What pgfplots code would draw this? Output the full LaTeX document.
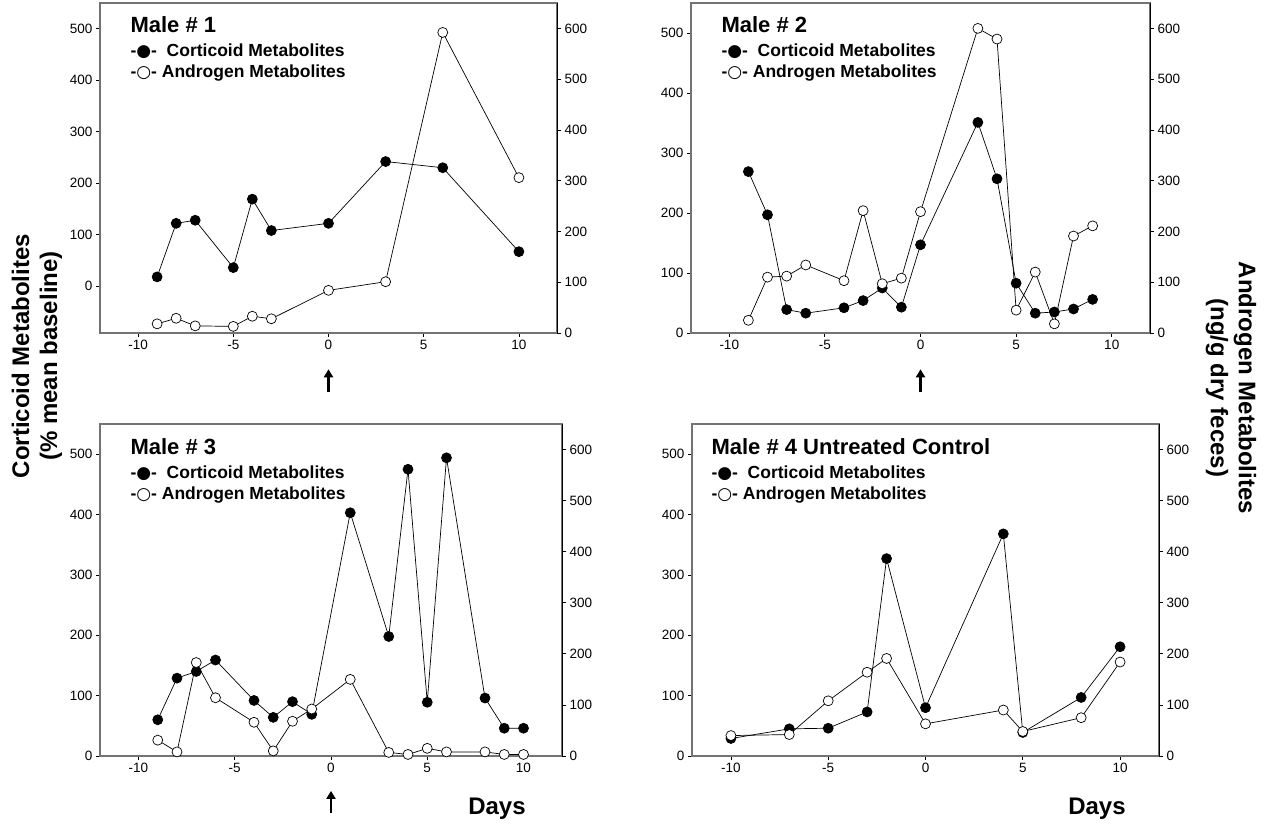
\documentclass[border=0pt]{standalone}
\usepackage{fontspec}
\setmainfont{Liberation Sans}
\newfontfamily\dejavu{DejaVu Sans}
\usepackage{pgfplots}
\pgfplotsset{compat=1.18}
\usetikzlibrary{arrows.meta}

\newcommand{\tickfont}{\fontsize{13.5}{15}\selectfont}

\pgfplotsset{
  panel/.style={
    scale only axis, anchor=south west, clip=false,
    xmin=-12, xmax=12,
    tick align=outside, major tick length=4pt,
    tick style={black, line width=0.8pt},
    xticklabel style={font=\tickfont},
    yticklabel style={font=\tickfont},
    /pgf/number format/assume math mode=true,
  },
  leftax/.style={panel,
    axis line style={black!55, line width=1.4pt},
    xtick={-10,-5,0,5,10}, xtick pos=bottom,
    ytick={0,100,...,500}, ytick pos=left,
    ymax=550,
  },
  rightax/.style={panel,
    axis x line=none, axis y line*=right,
    axis line style={black, line width=1pt},
    ytick={0,100,...,600},
    ymin=0, ymax=650,
  },
  cort/.style={black, line width=0.7pt, mark=*, mark size=5pt,
    mark options={fill=black, draw=black, line width=0.7pt}},
  andr/.style={black, line width=0.7pt, mark=*, mark size=5pt,
    mark options={fill=white, draw=black, line width=0.7pt}},
}

\newcommand{\legtext}[3]{%
  \node[anchor=base west, font=\fontsize{22}{24}\bfseries\selectfont] at (#1,#2) {#3};
  \node[anchor=base west, font=\fontsize{17.5}{19}\bfseries\selectfont] at (#1,#2-24pt)
    {-{\dejavu\fontsize{17}{19}\selectfont ●}-\ \ Corticoid Metabolites};
  \node[anchor=base west, font=\fontsize{17.5}{19}\bfseries\selectfont] at (#1,#2-45pt)
    {-{\dejavu\fontsize{17}{19}\selectfont ○}- Androgen Metabolites};
}

\begin{document}
\begin{tikzpicture}[x=1pt,y=1pt]
\useasboundingbox (0,0) rectangle (1278,827);

% ---------- Male 1 ----------
\begin{axis}[leftax, at={(100pt,494pt)}, width=457pt, height=330pt, ymin=-91]
\addplot[cort] coordinates {(-9,18) (-8,122) (-7,128) (-5,36) (-4,169) (-3,108) (0,122) (3,242) (6,230) (10,67)};
\draw[line width=2.2pt, -{Triangle[length=8pt,width=9pt]}] (rel axis cs:0.5,-0.18) -- (rel axis cs:0.5,-0.11);
\end{axis}
\begin{axis}[rightax, at={(100pt,494pt)}, width=457pt, height=330pt]
\addplot[andr] coordinates {(-9,18) (-8,29) (-7,14) (-5,13) (-4,33) (-3,28) (0,84) (3,101) (6,592) (10,306)};
\end{axis}

% ---------- Male 2 ----------
\begin{axis}[leftax, at={(691pt,494pt)}, width=459pt, height=330pt, ymin=0]
\addplot[cort] coordinates {(-9,269) (-8,197) (-7,39) (-6,33) (-4,42) (-3,54) (-2,75) (-1,43) (0,147) (3,351) (4,257) (5,83) (6,33) (7,35) (8,40) (9,56)};
\draw[line width=2.2pt, -{Triangle[length=8pt,width=9pt]}] (rel axis cs:0.5,-0.18) -- (rel axis cs:0.5,-0.11);
\end{axis}
\begin{axis}[rightax, at={(691pt,494pt)}, width=459pt, height=330pt]
\addplot[andr] coordinates {(-9,25) (-8,110) (-7,112) (-6,134) (-4,103) (-3,241) (-2,97) (-1,108) (0,239) (3,600) (4,579) (5,45) (6,120) (7,18) (8,191) (9,211)};
\end{axis}

% ---------- Male 3 ----------
\begin{axis}[leftax, at={(100pt,71pt)}, width=462pt, height=332pt, ymin=0]
\addplot[cort] coordinates {(-9,60) (-8,129) (-7,140) (-6,159) (-4,92) (-3,64) (-2,90) (-1,69) (1,403) (3,198) (4,475) (5,89) (6,494) (8,96) (9,46) (10,46)};
\draw[line width=2.2pt, -{Triangle[length=8pt,width=9pt]}] (rel axis cs:0.5,-0.172) -- (rel axis cs:0.5,-0.105);
\end{axis}
\begin{axis}[rightax, at={(100pt,71pt)}, width=462pt, height=332pt]
\addplot[andr] coordinates {(-9,31) (-8,8) (-7,183) (-6,114) (-4,66) (-3,10) (-2,68) (-1,92) (1,150) (3,7) (4,3) (5,15) (6,8) (8,8) (9,3) (10,3)};
\end{axis}

% ---------- Male 4 ----------
\begin{axis}[leftax, at={(692pt,71pt)}, width=467pt, height=332pt, ymin=0]
\addplot[cort] coordinates {(-10,29) (-7,45) (-5,46) (-3,73) (-2,327) (0,80) (4,368) (5,39) (8,97) (10,181)};
\end{axis}
\begin{axis}[rightax, at={(692pt,71pt)}, width=467pt, height=332pt]
\addplot[andr] coordinates {(-10,40) (-7,42) (-5,108) (-3,164) (-2,191) (0,63) (4,90) (5,48) (8,75) (10,184)};
\end{axis}

% ---------- titles and legends ----------
\legtext{127}{794}{Male \# 1}
\legtext{718}{794}{Male \# 2}
\legtext{127}{372}{Male \# 3}
\legtext{708}{372}{Male \# 4 Untreated Control}

% ---------- axis titles ----------
\node[rotate=90, align=center, font=\fontsize{24}{28}\bfseries\selectfont] at (37,471)
  {Corticoid Metabolites\\(\% mean baseline)};
\node[rotate=-90, align=center, font=\fontsize{24}{28}\bfseries\selectfont] at (1231,439)
  {Androgen Metabolites\\(ng/g dry feces)};
\node[anchor=base, font=\fontsize{24}{26}\bfseries\selectfont] at (497,12) {Days};
\node[anchor=base, font=\fontsize{24}{26}\bfseries\selectfont] at (1097,12) {Days};
\end{tikzpicture}
\end{document}
